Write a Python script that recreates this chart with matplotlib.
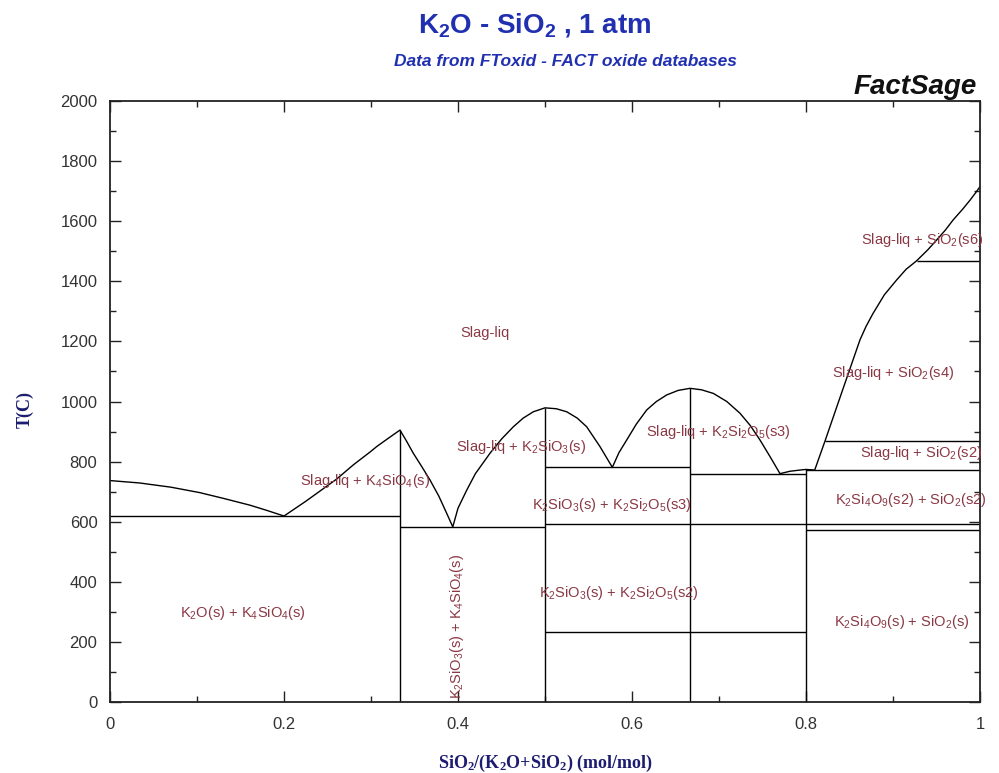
import matplotlib
matplotlib.use('Agg')
import matplotlib.pyplot as plt
from matplotlib.ticker import MultipleLocator

plt.rcParams['font.family'] = ['Liberation Sans', 'DejaVu Sans']
plt.rcParams['mathtext.default'] = 'regular'

# liquidus: mole fraction SiO2 vs T (C)
liquidus_x = [0, 0.034, 0.07, 0.103, 0.13, 0.161, 0.18, 0.2,
              0.225, 0.249, 0.2605, 0.28, 0.2989, 0.3065, 0.32, 0.3333,
              0.3405, 0.3486, 0.358, 0.3678, 0.378, 0.387, 0.394,
              0.40, 0.41, 0.42, 0.4368, 0.45, 0.4636, 0.475, 0.4866, 0.5,
              0.513, 0.5249, 0.537, 0.5479, 0.5632, 0.5774,
              0.585, 0.5939, 0.605, 0.6169, 0.628, 0.6399, 0.653, 0.6667,
              0.68, 0.6935, 0.709, 0.7241, 0.736, 0.7471, 0.759, 0.7701,
              0.7816, 0.7931, 0.80, 0.81, 0.822, 0.842, 0.862, 0.869, 0.877,
              0.89, 0.904, 0.915, 0.927, 0.94, 0.95, 0.96, 0.969, 0.98, 0.9885,
              0.995, 1.0]
liquidus_t = [737, 729, 715, 697, 678, 655, 638, 619,
              668, 718, 742, 790, 832, 850, 878, 905,
              870, 828, 785, 739, 685, 628, 583,
              645, 705, 760, 828, 875, 916, 945, 966, 979,
              976, 966, 945, 916, 850, 781,
              830, 872, 925, 972, 1000, 1022, 1037, 1044,
              1039, 1027, 1000, 961, 920, 872, 815, 760,
              768, 772, 774, 772, 870, 1038, 1205, 1250, 1293,
              1355, 1404, 1440, 1468, 1505, 1537, 1570, 1604, 1640, 1670,
              1695, 1715]

# congruent compounds (vertical lines)
compound_x = [1 / 3, 0.5, 2 / 3, 0.8]
compound_top = [905, 979, 1044, 774]

# invariant / transition lines
iso_t = [619, 582, 781, 592, 760, 234, 772, 572, 870, 1468]
iso_x0 = [0, 1 / 3, 0.5, 0.5, 2 / 3, 0.5, 0.8, 0.8, 0.822, 0.927]
iso_x1 = [1 / 3, 0.5, 2 / 3, 1.0, 0.8, 0.8, 1.0, 1.0, 1.0, 1.0]

# phase field labels
field_labels = ['Slag-liq',
                'Slag-liq + K$_4$SiO$_4$(s)',
                'Slag-liq + K$_2$SiO$_3$(s)',
                'Slag-liq + K$_2$Si$_2$O$_5$(s3)',
                'K$_2$SiO$_3$(s) + K$_2$Si$_2$O$_5$(s3)',
                'K$_2$SiO$_3$(s) + K$_2$Si$_2$O$_5$(s2)',
                'K$_2$O(s) + K$_4$SiO$_4$(s)',
                'Slag-liq + SiO$_2$(s6)',
                'Slag-liq + SiO$_2$(s4)',
                'Slag-liq + SiO$_2$(s2)',
                'K$_2$Si$_4$O$_9$(s2) + SiO$_2$(s2)',
                'K$_2$Si$_4$O$_9$(s) + SiO$_2$(s)']
field_x = [0.431, 0.293, 0.473, 0.699, 0.577, 0.585, 0.153, 0.933, 0.900, 0.932, 0.921, 0.910]
field_t = [1228, 736, 850, 900, 656, 362, 295, 1537, 1095, 828, 672, 267]

vert_label = 'K$_2$SiO$_3$(s) + K$_4$SiO$_4$(s)'
vert_x = 0.399
vert_t = 253

x_ticks = [0, 0.2, 0.4, 0.6, 0.8, 1.0]
x_ticklabels = ['0', '0.2', '0.4', '0.6', '0.8', '1']
y_ticks = [0, 200, 400, 600, 800, 1000, 1200, 1400, 1600, 1800, 2000]

label_color = '#8a3844'
blue = '#2030b0'
navy = '#1c1c70'

fig = plt.figure(figsize=(9.99, 7.73), dpi=100)
ax = fig.add_axes([0.1101, 0.0918, 0.8709, 0.7775])

ax.plot(liquidus_x, liquidus_t, color='black', lw=1)
ax.vlines(compound_x, 0, compound_top, color='black', lw=1)
ax.hlines(iso_t, iso_x0, iso_x1, color='black', lw=1)

for txt, x, t in zip(field_labels, field_x, field_t):
    ax.text(x, t, txt, color=label_color, fontsize=10.5, ha='center', va='center')
ax.text(vert_x, vert_t, vert_label, color=label_color, fontsize=10.5,
        ha='center', va='center', rotation=90)

ax.set_xlim(0, 1)
ax.set_ylim(0, 2000)
ax.set_xticks(x_ticks)
ax.set_xticklabels(x_ticklabels)
ax.set_yticks(y_ticks)
ax.xaxis.set_minor_locator(MultipleLocator(0.1))
ax.yaxis.set_minor_locator(MultipleLocator(100))
ax.tick_params(which='both', direction='in', top=True, right=True,
               labelsize=12, labelcolor='#333333', color='#222222')
ax.tick_params(which='major', length=8, width=1)
ax.tick_params(which='minor', length=4.5, width=1)
ax.tick_params(axis='x', pad=11)
ax.tick_params(axis='y', pad=9)
for sp in ax.spines.values():
    sp.set_linewidth(1.3)
    sp.set_color('#222222')

# titles and axis labels
fig.text(535 / 999, 1 - 25 / 773, 'K$_2$O - SiO$_2$ , 1 atm', color=blue,
         fontsize=20, fontweight='bold', ha='center', va='center')
fig.text(565 / 999, 1 - 62 / 773, 'Data from FToxid - FACT oxide databases',
         color=blue, fontsize=12.5, fontweight='bold', style='italic',
         ha='center', va='center')
fig.text(977 / 999, 1 - 87 / 773, 'FactSage', color='#111111', fontsize=20,
         fontweight='bold', style='italic', ha='right', va='center')
fig.text(545 / 999, 1 - 763 / 773, 'SiO$_2$/(K$_2$O+SiO$_2$) (mol/mol)',
         color=navy, fontsize=13, fontweight='bold', family='Liberation Serif',
         ha='center', va='center')
fig.text(25 / 999, 1 - 410 / 773, 'T(C)', color=navy, fontsize=13,
         fontweight='bold', family='Liberation Serif', rotation=90,
         ha='center', va='center')

fig.savefig('out.png', dpi=100)
